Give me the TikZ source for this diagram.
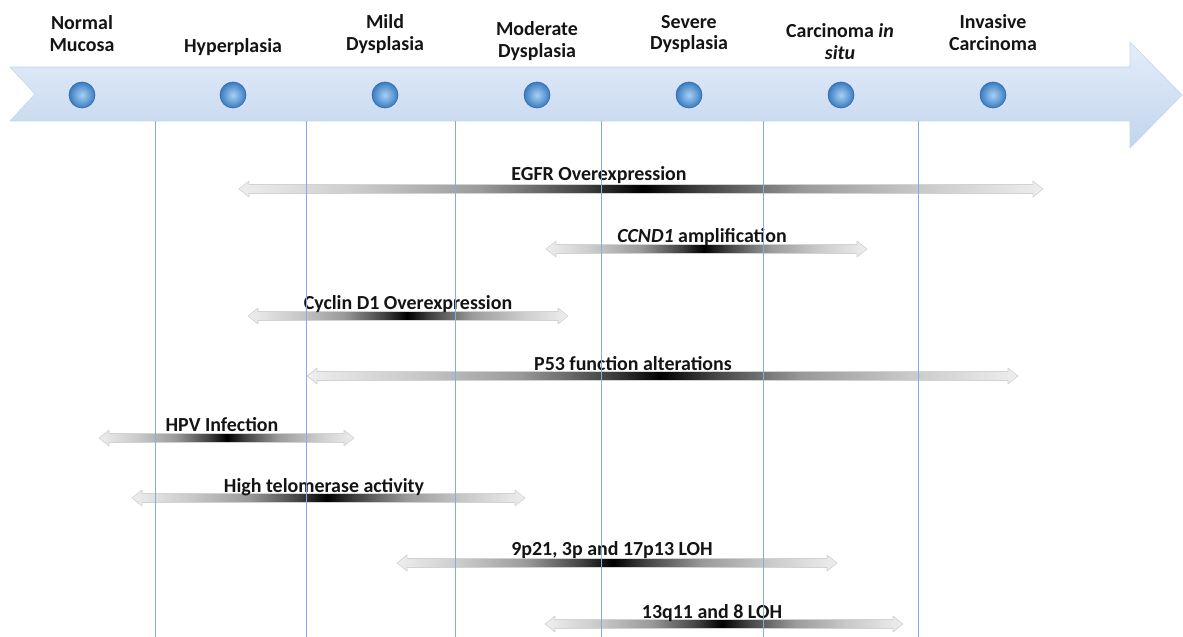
\documentclass[tikz,border=0pt]{standalone}
\usepackage{fontspec}
\setmainfont{Carlito}
\definecolor{vline}{HTML}{7FAEE4}
\definecolor{bartop}{HTML}{E4EDF9}
\definecolor{barbot}{HTML}{C2D5EE}
\definecolor{baredge}{HTML}{C3D5EC}
\definecolor{ballin}{HTML}{A8D0F3}
\definecolor{ballout}{HTML}{3A7CC2}
\definecolor{balledge}{HTML}{2F68A6}
\definecolor{glight}{HTML}{EEEEEE}
\definecolor{gl2}{HTML}{CACACA}
\definecolor{gmid}{HTML}{9A9A9A}
\definecolor{gdark}{HTML}{404040}
\definecolor{gblack}{HTML}{000000}
\definecolor{gedge}{HTML}{D2D2D2}
\pgfdeclarehorizontalshading{toblack}{100bp}{color(0bp)=(glight); color(25bp)=(glight); color(40bp)=(gl2); color(55bp)=(gmid); color(68bp)=(gdark); color(75bp)=(gblack); color(100bp)=(gblack)}
\pgfdeclarehorizontalshading{fromblack}{100bp}{color(0bp)=(gblack); color(25bp)=(gblack); color(32bp)=(gdark); color(45bp)=(gmid); color(60bp)=(gl2); color(75bp)=(glight); color(100bp)=(glight)}
\newcommand\arrowshape[3]{(#2,#1) -- (#2+10,#1-8) -- (#2+10,#1-4.5) -- (#3-10,#1-4.5) -- (#3-10,#1-8) -- (#3,#1) -- (#3-10,#1+8) -- (#3-10,#1+4.5) -- (#2+10,#1+4.5) -- (#2+10,#1+8) -- cycle}
% #1 name, #2 y, #3 x left, #4 x dark, #5 x right
\newcommand\gradbar[5]{%
  \coordinate (#1L) at (#3,#2);
  \coordinate (#1D) at (#4,#2);
  \coordinate (#1R) at (#5,#2);
  \begin{scope}
    \clip \arrowshape{#2}{#3}{#5};
    \shade[shading=toblack] (#3,#2-9) rectangle (#4,#2+9);
    \shade[shading=fromblack] (#4,#2-9) rectangle (#5,#2+9);
  \end{scope}
  \draw[gedge, line width=0.6bp, line join=round] \arrowshape{#2}{#3}{#5};
}
\begin{document}
\begin{tikzpicture}[x=1bp, y=-1bp,
  lab/.style={font=\bfseries\fontsize{20}{22}\selectfont, align=center, inner sep=0pt, text=black!92},
  barlab/.style={font=\bfseries\fontsize{20}{22}\selectfont, inner sep=0pt, text=black!92},
  ball/.style={circle, minimum size=26bp, inner sep=0pt, inner color=ballin, outer color=ballout, draw=balledge, line width=0.6bp},
  vl/.style={vline, line width=1bp}]
\useasboundingbox (0,0) rectangle (1183,637);
% big timeline arrow
\shade[top color=bartop, bottom color=barbot, draw=baredge, line width=0.6bp, line join=round]
  (10,67) -- (1130,67) -- (1130,42) -- (1182,95) -- (1130,148) -- (1130,121) -- (10,121) -- (35,94) -- cycle;
% stage balls
\foreach \i/\x in {1/82,2/233,3/385,4/537,5/689,6/841,7/993}
  \node[ball] (c\i) at (\x,95) {};
% stage labels
\node[lab] (l1) at (82,34) {Normal\\Mucosa};
\node[lab] (l2) at (233,47) {Hyperplasia};
\node[lab] (l3) at (385,34) {Mild\\Dysplasia};
\node[lab] (l4) at (537,41) {Moderate\\Dysplasia};
\node[lab] (l5) at (689,34) {Severe\\Dysplasia};
\node[lab] (l6) at (840,42) {Carcinoma \textit{in}\\\textit{situ}};
\node[lab] (l7) at (993,33) {Invasive\\Carcinoma};
% gradient bars
\gradbar{egfr}{189}{239}{643}{1043}
\node[barlab] (t1) at (599,175) {EGFR Overexpression};
\gradbar{ccnd}{249}{546}{704}{867}
\node[barlab] (t2) at (702,237) {\textit{CCND1} amplification};
\gradbar{cyc}{316}{248}{407}{568}
\node[barlab] (t3) at (408,304) {Cyclin D1 Overexpression};
\gradbar{p53}{376}{307}{660}{1018}
\node[barlab] (t4) at (633,364) {P53 function alterations};
\gradbar{hpv}{438}{99}{227}{354}
\node[barlab] (t5) at (222,425) {HPV Infection};
\gradbar{tel}{498}{132}{327}{525}
\node[barlab] (t6) at (324,487) {High telomerase activity};
\gradbar{loha}{563}{397}{613}{837}
\node[barlab] (t7) at (612,550) {9p21, 3p and 17p13 LOH};
\gradbar{lohb}{624}{545}{722}{903}
\node[barlab] (t8) at (712,613) {13q11 and 8 LOH};
% vertical guide lines
\foreach \i/\x in {1/155.5,2/306.5,3/455.5,4/601.5,5/763.5,6/918.5}{
  \coordinate (v\i t) at (\x,121);
  \coordinate (v\i b) at (\x,637);
  \draw[vl] (v\i t) -- (v\i b);
}
\end{tikzpicture}
\end{document}
